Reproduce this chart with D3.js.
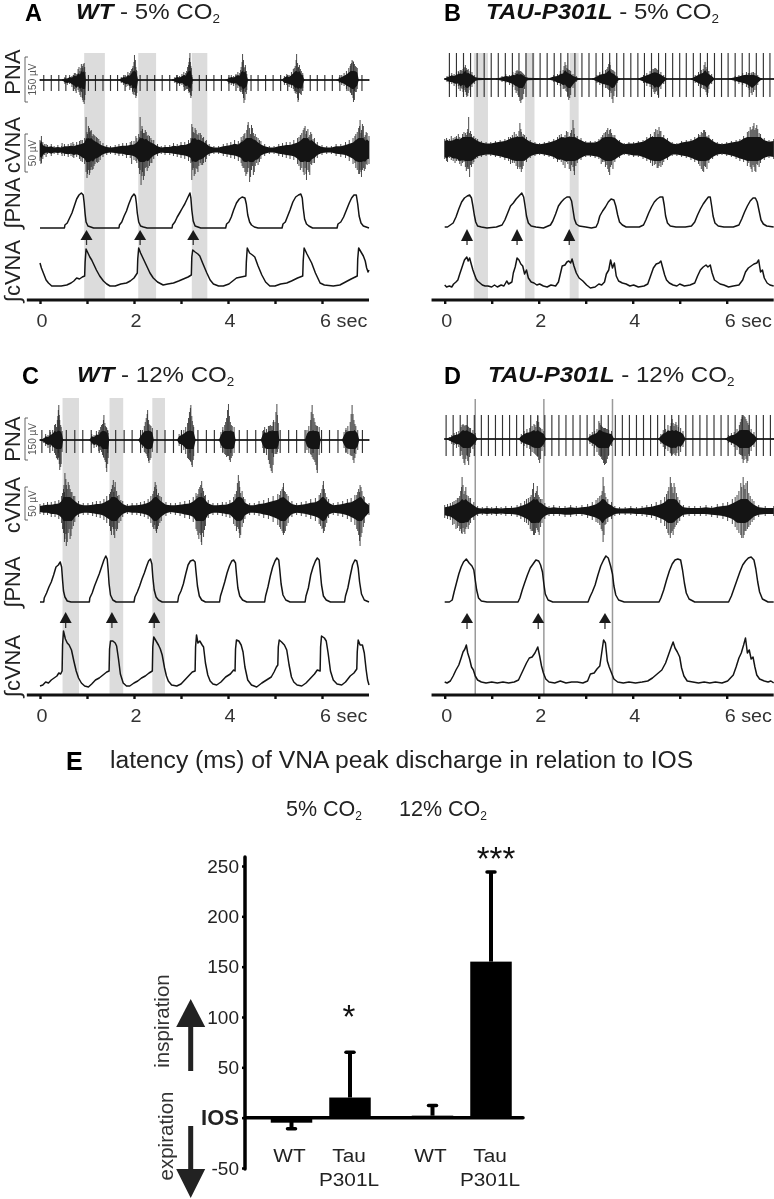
<!DOCTYPE html>
<html><head><meta charset="utf-8">
<script src="https://cdn.jsdelivr.net/npm/d3@7/dist/d3.min.js"></script>
<style>html,body{margin:0;background:#fff}svg{display:block;filter:blur(.35px)}text{font-family:"Liberation Sans",Arial,sans-serif}</style>
</head><body><div id="c"></div>
<script>
// ---- heartbeat artefact times (s)
const aBeats=[.08,.24,.40,.55,.71,.87,1.03,1.18,1.34,1.50,1.65,1.81,1.97,2.13,2.28,2.44,2.60,2.76,2.91,3.07,3.23,3.39,3.54,3.70,3.86,4.02,4.17,4.33,4.49,4.64,4.80,4.96,5.12,5.27,5.43,5.59,5.75,5.90,6.06,6.22,6.38,6.53,6.69,6.85];
const bBeats=[.10,.25,.40,.55,.69,.84,.99,1.14,1.29,1.44,1.58,1.73,1.88,2.03,2.18,2.33,2.47,2.62,2.77,2.92,3.07,3.22,3.36,3.51,3.66,3.81,3.96,4.11,4.25,4.40,4.55,4.70,4.85,5.00,5.14,5.29,5.44,5.59,5.74,5.89,6.03,6.18,6.33,6.48,6.63,6.78,6.92];
const cBeats=[.04,.21,.39,.56,.74,.91,1.09,1.26,1.44,1.61,1.79,1.96,2.14,2.31,2.49,2.66,2.84,3.01,3.19,3.36,3.54,3.71,3.89,4.06,4.24,4.41,4.59,4.76,4.94,5.11,5.29,5.46,5.64,5.81,5.99,6.16,6.34,6.51,6.69,6.86];
const dBeats=[.03,.18,.33,.48,.63,.78,.93,1.08,1.23,1.38,1.53,1.68,1.83,1.98,2.13,2.28,2.43,2.58,2.73,2.88,3.03,3.18,3.33,3.48,3.63,3.78,3.93,4.08,4.23,4.38,4.53,4.68,4.83,4.98,5.13,5.28,5.43,5.58,5.73,5.88,6.03,6.18,6.33,6.48,6.63,6.78,6.93];
// beat amplitude [up, down]
const aBeatAmp=[5,11], bBeatAmp=[26,18], cBeatAmp=[10,13], dBeatAmp=[24,17];

// ---- raw PNA envelope [t(s), up, down]
const aPnaEnv=[[0,1,1],[.48,1,1],[.53,3,4],[.58,2,5],[.63,5,4],[.68,4,7],[.73,7,9],[.77,6,13],[.81,11,10],[.85,9,15],[.88,16,12],[.91,12,20],[.94,17,24],[.96,8,15],[.975,1,1],
[1.68,1,1],[1.73,3,3],[1.78,5,5],[1.83,4,7],[1.87,8,6],[1.91,7,10],[1.95,11,8],[1.98,14,14],[2.01,25,12],[2.04,13,18],[2.06,9,13],[2.085,1,1],
[2.82,1,1],[2.87,3,3],[2.92,5,4],[2.97,4,6],[3.02,6,5],[3.06,8,7],[3.10,7,10],[3.14,13,9],[3.17,18,13],[3.19,27,12],[3.21,14,18],[3.235,3,4],[3.25,1,1],
[3.96,1,1],[4.02,3,4],[4.07,5,5],[4.12,4,6],[4.17,6,5],[4.21,8,8],[4.25,7,11],[4.28,13,10],[4.31,26,14],[4.34,12,23],[4.37,15,12],[4.40,6,10],[4.425,1,1],
[5.15,1,1],[5.2,4,5],[5.25,6,5],[5.3,5,7],[5.35,8,8],[5.39,11,9],[5.43,14,13],[5.46,26,12],[5.49,12,22],[5.52,15,13],[5.56,9,15],[5.59,7,8],[5.62,1,1],
[6.32,1,1],[6.37,3,3],[6.42,5,5],[6.47,7,6],[6.52,9,9],[6.57,12,11],[6.61,16,13],[6.64,20,15],[6.67,18,22],[6.71,14,12],[6.75,12,9],[6.78,1,1],[7,1,1]];
const bPnaEnv=[[0,1,1],[.05,3,3],[.1,4,5],[.15,6,5],[.2,5,7],[.25,7,8],[.29,8,7],[.33,9,12],[.37,8,10],[.41,11,9],[.44,14,13],[.47,9,18],[.5,10,14],[.54,8,11],[.58,7,8],[.63,4,5],[.67,2,2],
[1.1,1,1],[1.22,3,3],[1.3,5,4],[1.38,4,6],[1.45,7,8],[1.5,6,11],[1.54,9,12],[1.58,7,18],[1.62,8,24],[1.66,6,20],[1.7,4,10],[1.75,2,2],
[2.2,1,1],[2.32,4,3],[2.4,5,6],[2.46,8,7],[2.52,9,10],[2.56,17,9],[2.6,11,13],[2.64,9,21],[2.68,8,16],[2.73,5,9],[2.8,3,3],[2.87,1,1],
[3.15,1,1],[3.24,4,4],[3.3,7,6],[3.36,8,8],[3.42,9,9],[3.47,12,10],[3.51,17,11],[3.54,10,14],[3.58,9,24],[3.62,7,12],[3.67,3,4],[3.72,1,1],
[4.12,1,1],[4.23,4,4],[4.3,6,7],[4.37,8,8],[4.43,10,10],[4.47,11,15],[4.51,10,12],[4.55,9,19],[4.6,7,10],[4.66,4,5],[4.72,1,1],
[5.25,1,1],[5.33,4,4],[5.4,7,7],[5.46,9,9],[5.5,10,10],[5.54,17,11],[5.58,10,16],[5.62,8,10],[5.68,5,5],[5.74,1,1],
[6.05,1,1],[6.18,3,3],[6.26,4,5],[6.34,6,6],[6.42,7,8],[6.48,6,11],[6.54,7,16],[6.6,6,11],[6.66,4,6],[6.74,1,1],[7,1,1]];
const cPnaEnv=[[0,1,1],[.08,2,3],[.12,6,6],[.17,5,8],[.22,8,7],[.27,10,11],[.31,15,13],[.35,13,18],[.38,24,20],[.4,35,17],[.42,20,30],[.45,13,24],[.47,9,12],[.49,1,1],
[1.06,1,1],[1.1,6,5],[1.15,5,8],[1.2,9,7],[1.25,8,11],[1.29,13,10],[1.33,16,15],[1.36,25,18],[1.39,14,22],[1.42,12,32],[1.45,7,18],[1.47,1,1],
[2.1,1,1],[2.14,6,7],[2.18,10,8],[2.22,14,12],[2.26,22,14],[2.29,30,18],[2.32,16,23],[2.36,14,18],[2.39,12,12],[2.42,1,1],
[2.92,1,1],[2.96,6,6],[3.01,8,7],[3.06,10,10],[3.1,13,14],[3.14,17,18],[3.18,28,20],[3.21,35,22],[3.24,19,27],[3.27,13,16],[3.31,1,1],
[3.81,1,1],[3.85,8,8],[3.89,13,12],[3.93,15,14],[3.97,22,17],[4.01,36,16],[4.05,18,22],[4.09,14,16],[4.13,13,13],[4.16,1,1],
[4.7,1,1],[4.74,9,8],[4.78,13,13],[4.82,11,15],[4.86,14,20],[4.9,15,28],[4.94,14,33],[4.97,20,17],[5.0,18,14],[5.04,36,14],[5.07,17,9],[5.09,1,1],
[5.64,1,1],[5.68,10,10],[5.72,14,13],[5.76,20,14],[5.79,35,17],[5.83,22,20],[5.87,15,25],[5.9,14,33],[5.94,13,15],[5.97,1,1],
[6.43,1,1],[6.47,8,8],[6.51,12,12],[6.55,14,14],[6.6,18,15],[6.64,35,16],[6.68,20,23],[6.72,14,14],[6.76,10,10],[6.79,1,1],[7,1,1]];
const dPnaEnv=[[0,1,1],[.1,2,2],[.15,4,5],[.2,6,6],[.25,7,9],[.3,8,8],[.35,12,12],[.39,15,20],[.43,13,26],[.47,14,16],[.51,12,26],[.55,11,14],[.6,9,10],[.65,6,6],[.69,1,1],
[1.58,1,1],[1.63,5,5],[1.69,8,7],[1.75,10,9],[1.81,11,10],[1.86,13,13],[1.9,15,14],[1.94,12,16],[1.98,23,18],[2.02,12,24],[2.07,10,12],[2.11,8,8],[2.15,1,1],
[3.04,1,1],[3.09,5,5],[3.14,7,7],[3.19,8,9],[3.24,10,13],[3.28,18,16],[3.32,14,18],[3.36,12,21],[3.4,11,26],[3.44,10,24],[3.49,9,16],[3.55,8,7],[3.6,1,1],
[4.55,1,1],[4.6,5,5],[4.65,9,8],[4.7,10,10],[4.75,14,12],[4.8,13,14],[4.84,20,16],[4.88,13,14],[4.92,17,17],[4.97,12,11],[5.02,11,13],[5.07,8,8],[5.12,1,1],
[5.98,1,1],[6.04,4,4],[6.1,6,6],[6.16,7,8],[6.22,10,11],[6.27,14,15],[6.31,20,16],[6.35,24,24],[6.39,22,17],[6.43,18,24],[6.47,14,15],[6.52,10,12],[6.58,7,8],[6.65,1,1],[7,1,1]];

// ---- raw cVNA envelope [t(s), up, down]
const aVnaEnv=[[0,10,11],[.03,14,13],[.06,8,9],[.1,6,5],[.16,5,4],[.24,6,6],[.3,4,4],[.38,5,5],[.46,4,4],[.52,6,6],[.6,6,7],[.66,7,6],[.72,6,8],[.78,8,7],[.84,9,9],[.9,10,12],[.95,12,14],[.98,33,22],[1.0,18,28],[1.03,24,20],[1.06,18,23],[1.09,20,17],[1.13,16,19],[1.17,14,14],[1.22,12,13],[1.28,9,10],[1.34,7,7],[1.42,5,5],[1.5,4,4],[1.6,5,5],
[1.68,6,6],[1.76,7,6],[1.84,7,8],[1.92,8,8],[2,9,10],[2.06,12,13],[2.1,16,18],[2.13,33,20],[2.15,19,35],[2.18,21,22],[2.22,17,26],[2.26,18,17],[2.3,15,18],[2.36,12,13],[2.42,10,9],[2.5,6,6],[2.58,4,4],[2.66,5,5],[2.76,5,5],[2.84,7,6],[2.92,6,7],[3.0,8,8],[3.08,8,9],[3.16,10,11],[3.21,12,13],[3.23,26,30],[3.26,18,18],[3.3,22,24],[3.34,16,19],[3.38,17,16],[3.43,15,15],[3.48,13,13],[3.54,10,9],[3.6,6,6],[3.7,4,4],[3.8,4,4],
[3.9,6,6],[3.98,7,7],[4.06,8,8],[4.14,10,9],[4.22,9,11],[4.28,13,13],[4.32,14,18],[4.36,17,22],[4.4,20,24],[4.43,28,18],[4.46,22,32],[4.5,25,20],[4.54,17,25],[4.58,16,16],[4.64,12,15],[4.7,9,9],[4.78,6,6],[4.88,4,4],[4.98,4,4],[5.08,6,6],[5.16,7,7],[5.24,8,8],[5.32,8,9],[5.4,10,10],[5.48,12,14],[5.54,15,20],[5.6,20,22],[5.64,24,18],[5.67,19,30],[5.7,21,20],[5.74,15,25],[5.78,16,15],[5.84,12,13],[5.9,8,8],[6,5,5],[6.1,4,4],[6.2,4,4],[6.3,6,6],[6.4,6,7],[6.5,8,8],[6.58,10,11],[6.66,12,14],[6.72,16,18],[6.78,22,24],[6.81,30,20],[6.84,20,27],[6.88,24,18],[6.92,15,19],[6.96,17,15],[7,14,14]];
const bVnaEnv=[[0,10,10],[.04,11,12],[.1,10,9],[.18,11,12],[.25,13,12],[.32,12,15],[.38,15,14],[.44,16,18],[.48,17,20],[.51,32,20],[.53,16,28],[.57,15,18],[.62,13,13],[.7,10,9],[.78,8,8],[.88,7,7],[.98,7,7],[1.08,8,8],[1.18,9,9],[1.28,10,11],[1.36,12,12],[1.44,14,14],[1.52,15,17],[1.58,18,18],[1.6,26,20],[1.63,17,23],[1.67,15,17],[1.74,12,13],[1.82,9,9],[1.92,7,7],[2.02,6,6],[2.12,7,7],[2.22,8,8],[2.32,10,10],[2.4,12,13],[2.48,15,13],[2.56,14,19],[2.62,17,15],[2.68,16,22],[2.73,29,18],[2.76,15,26],[2.82,13,14],[2.9,11,11],[3.0,8,8],[3.1,8,8],[3.2,8,9],[3.28,10,10],[3.36,14,13],[3.42,17,18],[3.47,21,20],[3.51,19,26],[3.55,16,16],[3.62,14,13],[3.72,9,9],[3.82,6,6],[3.92,7,7],[4.02,7,8],[4.12,8,8],[4.22,9,10],[4.3,12,12],[4.38,15,14],[4.46,17,16],[4.52,19,19],[4.56,22,17],[4.6,18,18],[4.66,14,13],[4.74,11,11],[4.84,7,7],[4.94,6,7],[5.04,8,8],[5.14,9,9],[5.24,10,11],[5.32,12,13],[5.4,15,15],[5.46,17,20],[5.51,19,23],[5.55,17,18],[5.62,14,14],[5.7,10,10],[5.8,7,7],[5.9,6,6],[6.0,7,7],[6.1,8,8],[6.2,9,10],[6.28,10,12],[6.36,13,13],[6.44,17,17],[6.5,22,18],[6.54,20,23],[6.58,26,18],[6.62,21,23],[6.66,20,16],[6.72,15,14],[6.8,11,11],[6.9,9,9],[7,10,10]];
const cVnaEnv=[[0,5,5],[.08,6,6],[.16,7,6],[.24,7,8],[.32,8,8],[.4,9,10],[.46,13,14],[.5,20,24],[.53,36,30],[.56,24,37],[.6,27,24],[.64,20,30],[.68,17,20],[.74,13,13],[.82,8,8],[.92,6,6],[1.02,6,6],[1.12,7,7],[1.2,8,8],[1.28,8,9],[1.36,10,11],[1.42,13,14],[1.48,15,17],[1.52,20,26],[1.56,29,20],[1.59,22,29],[1.63,18,22],[1.68,14,14],[1.76,8,8],[1.86,5,5],[1.96,6,6],[2.06,6,6],[2.14,7,7],[2.22,8,8],[2.3,10,10],[2.36,13,14],[2.42,18,20],[2.45,27,20],[2.48,20,24],[2.52,16,17],[2.58,12,12],[2.68,7,7],[2.78,6,5],[2.88,6,6],[2.98,7,7],[3.08,8,9],[3.18,9,10],[3.26,12,13],[3.32,16,20],[3.38,20,30],[3.42,24,26],[3.44,28,36],[3.48,18,28],[3.52,14,17],[3.58,9,9],[3.68,6,6],[3.78,6,6],[3.88,7,7],[3.96,7,8],[4.04,9,9],[4.12,12,15],[4.18,18,22],[4.22,34,20],[4.25,22,29],[4.3,18,18],[4.36,10,10],[4.46,6,6],[4.56,6,6],[4.66,8,7],[4.76,9,9],[4.86,11,10],[4.96,13,13],[5.06,15,16],[5.12,18,20],[5.18,26,26],[5.22,17,22],[5.28,13,14],[5.36,8,8],[5.46,6,6],[5.56,7,7],[5.66,8,8],[5.76,10,10],[5.86,11,12],[5.94,14,15],[6.0,20,20],[6.03,28,24],[6.07,16,18],[6.14,10,9],[6.24,6,6],[6.34,7,7],[6.44,8,8],[6.54,10,10],[6.62,11,13],[6.7,14,16],[6.76,17,22],[6.81,24,37],[6.85,18,24],[6.9,12,14],[7,6,6]];
const dVnaEnv=[[0,6,7],[.06,7,8],[.12,8,9],[.2,10,13],[.27,13,17],[.32,15,20],[.37,34,23],[.41,17,21],[.45,24,18],[.5,15,18],[.55,13,12],[.62,9,9],[.7,5,5],[.8,4,4],[.9,5,5],[1.0,4,4],[1.1,5,5],[1.2,4,4],[1.3,5,5],[1.42,5,5],[1.54,6,6],[1.62,8,8],[1.7,10,11],[1.78,13,14],[1.84,16,20],[1.89,28,24],[1.93,18,22],[1.97,25,19],[2.01,14,24],[2.07,12,12],[2.13,8,8],[2.22,5,5],[2.32,6,5],[2.44,5,5],[2.56,5,6],[2.68,6,6],[2.8,5,5],[2.92,6,5],[3.04,7,7],[3.14,9,9],[3.22,11,11],[3.3,15,14],[3.35,20,20],[3.37,34,31],[3.41,18,14],[3.47,12,11],[3.55,9,8],[3.62,5,5],[3.72,4,4],[3.84,4,4],[3.96,5,4],[4.08,4,5],[4.2,5,5],[4.3,6,6],[4.4,7,7],[4.5,9,9],[4.6,11,12],[4.68,14,15],[4.75,20,22],[4.8,34,27],[4.84,24,20],[4.88,28,18],[4.93,18,14],[5.0,11,10],[5.08,6,6],[5.2,5,5],[5.32,5,5],[5.44,5,5],[5.56,6,5],[5.68,5,6],[5.8,7,7],[5.92,8,8],[6.02,9,10],[6.12,12,13],[6.22,16,19],[6.3,28,24],[6.35,34,27],[6.39,22,20],[6.44,30,18],[6.5,15,14],[6.58,10,9],[6.68,6,6],[6.82,5,5],[7,5,5]];

// ---- extra single deflections outside the dense core [t, up, down]
const aVnaHair=[[.02,9,14],[.13,6,7],[.47,7,6],[.7,8,7],[.87,10,11],[1.01,16,24],[1.05,22,25],[1.08,19,20],[1.11,14,20],[1.15,15,16],[1.2,13,12],[1.25,11,12],[1.95,9,14],[2.04,14,11],[2.12,13,24],[2.17,24,26],[2.2,17,30],[2.24,20,18],[2.28,14,21],[2.33,14,16],[2.38,10,13],[3.25,23,20],[3.28,17,26],[3.32,20,18],[3.36,15,22],[3.41,17,13],[3.46,12,15],[3.52,9,12],[4.3,10,16],[4.34,16,18],[4.38,12,26],[4.42,25,22],[4.48,16,27],[4.52,22,16],[4.56,14,22],[4.61,13,13],[4.67,10,12],[5.51,13,16],[5.57,17,18],[5.62,22,25],[5.66,16,24],[5.72,13,22],[5.76,18,14],[5.81,11,13],[6.7,14,13],[6.75,18,20],[6.8,24,24],[6.83,17,22],[6.86,26,20],[6.9,13,21],[6.94,18,14]];
const bVnaHair=[[.06,9,13],[.14,13,11],[.22,12,14],[.29,15,12],[.35,11,17],[.41,17,13],[.46,14,22],[.49,20,18],[.55,18,16],[.6,12,15],[.66,11,10],[1.4,12,15],[1.48,17,14],[1.55,13,20],[1.62,20,18],[1.65,13,20],[1.7,14,12],[2.44,14,11],[2.52,12,16],[2.59,18,13],[2.65,13,20],[2.7,19,16],[2.75,21,22],[2.79,12,17],[3.33,12,15],[3.39,16,13],[3.45,19,16],[3.49,15,23],[3.53,20,18],[3.58,14,20],[4.42,13,17],[4.49,20,15],[4.54,15,19],[4.58,18,14],[4.63,12,16],[5.43,14,17],[5.49,16,22],[5.53,19,17],[5.58,13,20],[6.47,18,14],[6.52,19,20],[6.56,23,16],[6.6,19,22],[6.64,24,15],[6.69,16,18]];
const cVnaHair=[[.48,16,20],[.51,24,20],[.52,17,33],[.55,30,25],[.58,20,33],[.62,24,20],[.66,17,27],[.71,13,17],[1.5,17,22],[1.54,24,18],[1.57,17,26],[1.6,27,20],[1.65,13,20],[1.72,9,12],[2.4,15,18],[2.44,22,16],[2.47,24,22],[2.5,14,20],[2.55,13,14],[3.34,13,22],[3.36,15,26],[3.4,22,24],[3.43,16,33],[3.46,21,24],[3.5,13,21],[4.15,15,17],[4.2,26,18],[4.24,28,24],[4.27,16,26],[4.33,12,14],[5.1,14,18],[5.15,20,22],[5.17,22,24],[5.2,18,24],[5.25,15,17],[5.97,16,17],[6.02,24,19],[6.05,20,22],[6.1,12,14],[6.74,14,20],[6.78,20,26],[6.8,17,32],[6.83,22,28],[6.88,13,18]];
const dVnaHair=[[.17,9,14],[.24,11,18],[.3,13,15],[.34,20,18],[.36,24,22],[.39,26,17],[.43,20,23],[.47,16,16],[.52,13,14],[1.74,12,12],[1.82,14,18],[1.87,22,20],[1.91,14,24],[1.95,20,17],[1.99,16,21],[2.04,12,16],[3.26,13,12],[3.33,16,18],[3.39,25,24],[3.43,14,13],[4.72,17,18],[4.77,24,24],[4.82,28,22],[4.86,18,24],[4.9,24,16],[4.96,14,12],[6.18,14,16],[6.26,20,22],[6.32,24,27],[6.37,26,24],[6.41,28,20],[6.47,18,16],[6.54,12,11]];
const aPnaHair=[[.75,7,11],[.83,13,12],[.87,12,17],[.9,14,18],[.92,16,22],[.95,13,20],[1.93,9,8],[1.97,12,12],[2.0,18,15],[2.03,20,15],[2.05,10,16],[3.12,9,9],[3.16,15,11],[3.18,22,12],[3.2,18,15],[3.22,12,16],[4.27,10,12],[4.3,18,12],[4.33,20,18],[4.36,13,20],[4.39,9,14],[5.41,12,11],[5.45,20,14],[5.48,17,18],[5.5,13,20],[5.54,11,14],[6.6,14,12],[6.63,17,15],[6.66,19,18],[6.69,16,20],[6.73,13,12]];
const bPnaHair=[[.3,7,10],[.35,9,9],[.39,10,13],[.43,12,11],[.46,11,16],[.49,9,17],[1.52,8,14],[1.56,8,16],[1.6,8,22],[1.64,7,21],[1.68,5,15],[2.54,13,10],[2.58,14,12],[2.62,10,17],[2.66,9,19],[3.45,10,9],[3.49,15,11],[3.52,14,12],[3.56,9,20],[3.6,8,17],[4.45,10,13],[4.49,11,13],[4.53,9,16],[5.52,14,10],[5.56,12,13],[5.6,8,14],[6.46,6,9],[6.52,6,14],[6.57,7,13]];
const cPnaHair=[[.33,16,15],[.37,20,19],[.39,30,18],[.41,25,24],[.44,15,27],[1.31,15,12],[1.35,20,17],[1.38,17,20],[1.41,13,28],[1.44,9,24],[2.24,18,13],[2.28,26,16],[2.31,20,21],[2.34,15,20],[3.16,22,19],[3.2,32,21],[3.23,24,25],[3.26,15,20],[3.95,18,15],[3.99,30,16],[4.03,24,20],[4.07,15,18],[4.88,14,24],[4.92,14,31],[4.96,18,25],[5.02,28,14],[5.05,25,12],[5.77,28,15],[5.81,26,19],[5.85,18,22],[5.89,14,30],[6.62,26,16],[6.66,26,20],[6.7,16,18]];
const dPnaHair=[[.37,14,16],[.41,14,24],[.45,14,20],[.49,13,22],[.53,11,18],[1.92,14,15],[1.96,18,17],[2.0,17,21],[2.04,11,20],[3.3,16,17],[3.34,13,20],[3.38,11,24],[3.42,11,25],[3.46,10,20],[4.82,16,15],[4.86,16,15],[4.9,15,16],[4.94,14,14],[6.29,17,16],[6.33,22,20],[6.37,23,21],[6.41,20,20],[6.45,16,22]];

// ---- rectified / integrated traces [t(s), amplitude]
const aIntPna=[[0,0],[.52,0],[.53,3],[.58,5],[.63,10],[.68,15],[.73,22],[.78,29],[.83,33],[.88,35],[.92,33],[.94,25],[.96,14],[.98,6],[1.02,2],[1.08,1],[1.14,0],[1.68,0],[1.69,3],[1.74,6],[1.79,12],[1.84,17],[1.89,24],[1.95,31],[2.0,34],[2.03,32],[2.05,25],[2.07,15],[2.10,6],[2.14,2],[2.2,1],[2.28,0],[2.81,0],[2.82,3],[2.87,6],[2.92,11],[2.97,15],[3.03,20],[3.08,24],[3.14,30],[3.19,35],[3.21,30],[3.23,18],[3.26,7],[3.30,2],[3.36,1],[3.42,0],[3.95,0],[3.97,4],[4.02,6],[4.07,11],[4.12,18],[4.18,25],[4.24,29],[4.3,31],[4.36,30],[4.39,24],[4.42,13],[4.46,6],[4.5,3],[4.56,1],[4.64,0],[5.15,0],[5.17,4],[5.22,6],[5.27,12],[5.32,18],[5.38,26],[5.44,31],[5.5,33],[5.55,34],[5.58,30],[5.6,20],[5.63,9],[5.67,4],[5.72,2],[5.8,0],[6.32,0],[6.34,4],[6.4,6],[6.46,11],[6.52,18],[6.58,25],[6.63,30],[6.68,33],[6.73,33],[6.76,24],[6.79,12],[6.83,5],[6.88,2],[6.94,1],[7,0]];
const aIntVna=[[0,24],[.03,19],[.08,13],[.13,7],[.18,4],[.25,1],[.35,1],[.45,1],[.57,2],[.66,4],[.72,6],[.78,9],[.84,8],[.9,10],[.95,11],[.96,25],[.98,38],[1.02,34],[1.06,30],[1.1,27],[1.15,22],[1.2,17],[1.27,11],[1.35,6],[1.42,3],[1.49,1],[1.6,1],[1.72,3],[1.84,4],[1.92,6],[2.0,9],[2.07,14],[2.08,28],[2.1,39],[2.14,34],[2.2,28],[2.27,21],[2.34,14],[2.41,9],[2.5,5],[2.62,2],[2.72,3],[2.84,4],[2.95,6],[3.05,8],[3.15,10],[3.22,12],[3.23,30],[3.25,37],[3.3,35],[3.36,33],[3.4,31],[3.46,24],[3.55,14],[3.62,7],[3.69,3],[3.8,1],[3.9,1],[4.02,3],[4.1,6],[4.18,9],[4.28,10],[4.38,11],[4.39,25],[4.41,39],[4.46,34],[4.52,32],[4.57,30],[4.64,21],[4.72,12],[4.8,5],[4.89,1],[5.0,1],[5.12,3],[5.25,4],[5.35,6],[5.48,9],[5.59,11],[5.6,26],[5.62,39],[5.68,33],[5.78,24],[5.86,14],[5.96,4],[6.05,2],[6.24,1],[6.38,2],[6.5,5],[6.62,8],[6.75,11],[6.76,28],[6.78,39],[6.83,35],[6.88,31],[6.92,26],[6.95,19],[6.98,15],[7,17]];
const bIntPna=[[0,1],[.06,1],[.12,3],[.18,5],[.24,11],[.3,19],[.36,26],[.42,30],[.48,32],[.53,33],[.57,30],[.6,22],[.63,13],[.66,6],[.7,2],[.78,1],[.9,0],[1.1,1],[1.22,3],[1.28,8],[1.34,15],[1.4,22],[1.46,25],[1.52,29],[1.58,32],[1.64,35],[1.68,31],[1.71,22],[1.74,12],[1.78,5],[1.84,2],[1.94,1],[2.1,0],[2.25,3],[2.3,7],[2.36,14],[2.42,22],[2.48,26],[2.54,29],[2.6,31],[2.66,31],[2.7,27],[2.73,18],[2.76,9],[2.8,4],[2.86,2],[3.0,1],[3.12,0],[3.22,1],[3.26,5],[3.3,12],[3.36,17],[3.42,21],[3.48,26],[3.54,29],[3.6,28],[3.64,22],[3.68,13],[3.72,6],[3.78,3],[3.86,1],[4.0,1],[4.14,1],[4.23,3],[4.28,8],[4.34,15],[4.4,21],[4.46,26],[4.52,29],[4.58,31],[4.64,31],[4.67,23],[4.7,12],[4.74,5],[4.8,2],[4.92,1],[5.12,1],[5.25,2],[5.32,6],[5.38,13],[5.44,19],[5.5,24],[5.56,28],[5.61,31],[5.65,31],[5.68,22],[5.71,12],[5.75,5],[5.82,2],[5.94,1],[6.14,1],[6.26,3],[6.32,9],[6.38,16],[6.44,22],[6.5,27],[6.56,30],[6.61,30],[6.65,26],[6.69,17],[6.73,8],[6.78,4],[6.85,2],[7,1]];
const bIntVna=[[0,3],[.04,1],[.1,2],[.15,1],[.19,4],[.24,6],[.28,8],[.32,14],[.37,21],[.42,28],[.47,31],[.5,27],[.53,30],[.57,23],[.6,18],[.63,14],[.67,9],[.7,7],[.75,5],[.8,3],[.86,2],[.92,2],[1.0,1],[1.06,3],[1.12,1],[1.2,3],[1.26,2],[1.32,7],[1.36,4],[1.43,6],[1.46,15],[1.5,21],[1.54,30],[1.58,28],[1.62,24],[1.66,22],[1.7,14],[1.74,18],[1.78,10],[1.84,6],[1.9,5],[1.96,3],[2.02,4],[2.1,2],[2.18,1],[2.26,3],[2.36,2],[2.42,6],[2.46,14],[2.5,22],[2.56,23],[2.6,26],[2.64,27],[2.68,25],[2.71,29],[2.75,22],[2.8,15],[2.86,10],[2.94,7],[3.02,3],[3.1,0],[3.2,1],[3.28,4],[3.34,3],[3.4,6],[3.44,14],[3.49,18],[3.53,28],[3.57,20],[3.61,25],[3.65,12],[3.7,7],[3.78,5],[3.86,4],[3.94,2],[4.02,3],[4.12,1],[4.24,2],[4.32,4],[4.38,12],[4.44,20],[4.5,24],[4.56,25],[4.6,27],[4.64,20],[4.68,13],[4.72,8],[4.78,5],[4.86,3],[4.94,2],[5.0,4],[5.1,2],[5.22,3],[5.32,5],[5.38,12],[5.44,18],[5.5,21],[5.56,23],[5.6,21],[5.65,23],[5.69,15],[5.74,8],[5.8,6],[5.86,4],[5.94,3],[6.04,1],[6.14,2],[6.26,3],[6.34,8],[6.4,16],[6.46,20],[6.52,22],[6.58,24],[6.64,25],[6.68,28],[6.72,16],[6.76,18],[6.8,10],[6.86,5],[6.92,3],[7,2]];
const cIntPna=[[0,0],[.08,0],[.09,4],[.14,9],[.19,15],[.24,20],[.29,27],[.34,35],[.39,37],[.43,40],[.46,35],[.48,22],[.5,11],[.53,5],[.58,1],[.66,0],[1.05,0],[1.06,4],[1.11,9],[1.16,16],[1.21,22],[1.26,28],[1.31,35],[1.36,42],[1.4,46],[1.43,43],[1.45,32],[1.47,18],[1.5,7],[1.55,2],[1.62,0],[2.0,0],[2.02,5],[2.07,10],[2.12,16],[2.17,23],[2.22,29],[2.27,36],[2.31,41],[2.35,43],[2.38,38],[2.4,25],[2.43,12],[2.47,5],[2.52,2],[2.6,0],[2.93,0],[2.95,6],[3.0,11],[3.05,18],[3.1,28],[3.15,37],[3.2,41],[3.26,42],[3.3,40],[3.32,30],[3.35,16],[3.39,6],[3.44,2],[3.52,0],[3.82,0],[3.84,6],[3.88,12],[3.93,20],[3.98,29],[4.03,36],[4.08,41],[4.12,42],[4.16,39],[4.18,28],[4.21,14],[4.25,6],[4.31,2],[4.4,0],[4.78,0],[4.8,6],[4.85,15],[4.9,26],[4.95,35],[5,41],[5.04,44],[5.08,42],[5.1,33],[5.13,18],[5.17,7],[5.23,2],[5.32,0],[5.64,0],[5.66,6],[5.71,14],[5.76,27],[5.81,35],[5.86,41],[5.9,44],[5.94,42],[5.96,32],[5.99,17],[6.03,6],[6.09,2],[6.18,0],[6.48,0],[6.5,6],[6.55,14],[6.6,26],[6.65,37],[6.7,42],[6.74,41],[6.77,34],[6.8,20],[6.84,8],[6.9,2],[7,0]];
const cIntVna=[[0,1],[.06,2],[.12,5],[.18,4],[.24,7],[.3,9],[.36,11],[.4,14],[.44,13],[.47,16],[.48,42],[.5,56],[.54,48],[.58,44],[.62,42],[.67,37],[.72,26],[.77,16],[.82,9],[.88,4],[.95,1],[1.03,0],[1.1,3],[1.18,7],[1.26,9],[1.34,12],[1.42,15],[1.47,16],[1.48,38],[1.5,46],[1.55,46],[1.6,44],[1.63,41],[1.67,28],[1.71,13],[1.77,4],[1.84,1],[1.91,1],[2.0,4],[2.08,6],[2.16,9],[2.24,11],[2.32,14],[2.39,16],[2.4,40],[2.42,50],[2.47,46],[2.52,42],[2.56,38],[2.6,32],[2.65,19],[2.69,11],[2.73,6],[2.8,2],[2.91,1],[3,3],[3.08,7],[3.16,11],[3.24,15],[3.3,16],[3.31,40],[3.33,52],[3.36,44],[3.4,46],[3.45,42],[3.48,40],[3.52,24],[3.57,12],[3.62,6],[3.68,3],[3.76,2],[3.85,5],[3.95,10],[4.05,13],[4.12,17],[4.15,16],[4.16,38],[4.18,47],[4.23,46],[4.28,42],[4.32,35],[4.36,20],[4.42,7],[4.5,2],[4.61,0],[4.72,4],[4.82,7],[4.92,10],[4.98,15],[5.03,20],[5.06,22],[5.07,40],[5.09,47],[5.14,45],[5.2,42],[5.25,37],[5.3,22],[5.35,10],[5.4,5],[5.47,2],[5.57,1],[5.66,4],[5.76,9],[5.84,13],[5.9,17],[5.96,16],[5.97,40],[5.99,51],[6.05,49],[6.09,46],[6.13,34],[6.18,16],[6.24,7],[6.32,3],[6.42,2],[6.5,5],[6.6,11],[6.68,14],[6.74,18],[6.75,35],[6.77,47],[6.81,42],[6.86,42],[6.9,34],[6.94,17],[6.97,7],[7,2]];
const dIntPna=[[0,0],[.1,0],[.16,2],[.2,10],[.25,19],[.3,28],[.35,35],[.4,40],[.46,43],[.52,39],[.58,36],[.62,32],[.65,22],[.68,12],[.72,4],[.78,1],[.9,0],[1.56,0],[1.6,4],[1.65,12],[1.7,19],[1.76,27],[1.82,34],[1.88,38],[1.94,42],[2.0,41],[2.04,37],[2.08,30],[2.11,18],[2.14,8],[2.2,2],[2.3,0],[3.05,0],[3.09,5],[3.14,10],[3.2,17],[3.26,27],[3.32,36],[3.38,42],[3.43,46],[3.48,44],[3.53,36],[3.57,28],[3.6,16],[3.64,7],[3.7,2],[3.82,0],[4.56,0],[4.6,4],[4.66,12],[4.72,22],[4.78,31],[4.84,38],[4.9,42],[4.96,43],[5.02,42],[5.06,32],[5.1,19],[5.14,9],[5.2,3],[5.32,0],[6.04,0],[6.1,6],[6.16,14],[6.22,22],[6.28,30],[6.34,37],[6.4,41],[6.46,44],[6.52,45],[6.58,42],[6.62,33],[6.66,20],[6.7,10],[6.76,3],[6.88,0],[7,0]];
const dIntVna=[[0,1],[.05,0],[.12,2],[.18,7],[.24,13],[.3,18],[.35,25],[.39,31],[.43,34],[.46,38],[.49,30],[.53,24],[.57,16],[.61,13],[.65,7],[.7,3],[.78,1],[.88,0],[1.0,1],[1.12,0],[1.24,1],[1.36,0],[1.48,1],[1.57,3],[1.62,8],[1.68,14],[1.74,20],[1.8,25],[1.86,26],[1.92,30],[1.98,36],[2.02,27],[2.06,17],[2.1,10],[2.15,4],[2.22,1],[2.34,0],[2.46,2],[2.58,0],[2.7,1],[2.82,1],[2.94,0],[3.04,2],[3.1,9],[3.18,10],[3.24,14],[3.3,17],[3.34,30],[3.38,43],[3.42,40],[3.46,22],[3.5,16],[3.55,10],[3.6,4],[3.68,1],[3.8,0],[3.92,1],[4.06,0],[4.2,1],[4.32,2],[4.42,5],[4.52,9],[4.62,13],[4.7,20],[4.76,28],[4.82,36],[4.86,41],[4.9,35],[4.95,31],[5,26],[5.04,15],[5.09,7],[5.16,2],[5.28,1],[5.4,0],[5.52,1],[5.64,0],[5.76,1],[5.9,0],[6.02,2],[6.08,5],[6.14,8],[6.2,16],[6.26,25],[6.31,30],[6.36,38],[6.4,45],[6.44,30],[6.48,33],[6.52,24],[6.56,26],[6.6,16],[6.64,8],[6.7,4],[6.8,2],[6.88,1],[6.94,2],[7,0]];

// ---- event markers
const aBands=[[.94,1.38],[2.09,2.47],[3.23,3.56]], bBands=[[.62,.92],[1.71,1.91],[2.66,2.85]], cBands=[[.48,.83],[1.48,1.77],[2.39,2.66]];
const dLines=[.65,2.11,3.57];
const aArrows=[.99,2.13,3.26], bArrows=[.475,1.54,2.65], cArrows=[.546,1.53,2.43], dArrows=[.475,1.99,3.41];

// ---- bar chart
const barGroups=['5% CO2','12% CO2'];
const barCats=['WT','Tau'];
const barMeans=[[-4,20],[2,155]];
const barErr=[[-11,65],[12,244]];
const yTicks=[250,200,150,100,50,0,-50];
const timeTicks=[0,1,2,3,4,5,6];

const W=774,H=1199,SX=1.12;
const svg=d3.select('#c').append('svg').attr('width',W).attr('height',H).attr('viewBox',`0 0 ${W} ${H}`);
const ink='#141414', grey='#dcdcdc';

function wide(x,y,size,anchor){
  return svg.append('text').attr('transform',`translate(${x},${y}) scale(${SX},1)`).attr('font-size',size).attr('text-anchor',anchor||'start').attr('fill','#222');
}
function title(x,y,lab,lx,name,pct){
  svg.append('text').attr('x',x).attr('y',y+1).attr('font-size',23.5).attr('font-weight','bold').attr('fill','#000').text(lab);
  const t=wide(lx,y-1,21.5);
  t.append('tspan').attr('font-weight','bold').attr('font-style','italic').attr('fill','#111').text(name);
  t.append('tspan').text(' - '+pct+' CO');
  t.append('tspan').attr('font-size',12).attr('dy',4).text('2');
}
function rowLabel(x,y,s){
  svg.append('text').attr('transform',`translate(${x},${y}) rotate(-90)`).attr('font-size',22).attr('fill','#222').attr('text-anchor','middle').text(s);
}
function scaleBar(x,y0,y1,s){
  svg.append('path').attr('d',`M${x+3},${y0}H${x}V${y1}H${x+3}`).attr('fill','none').attr('stroke','#555').attr('stroke-width',.9);
  svg.append('text').attr('transform',`translate(${x+10.5},${(y0+y1)/2}) rotate(-90)`).attr('font-size',10).attr('fill','#555').attr('text-anchor','middle').text(s);
}
function raw(g,x,yS,env,hair,coreF,cap){
  const c=v=>Math.min(v*coreF,cap);
  const all=env.concat(hair);
  g.selectAll(null).data(all).join('line').attr('x1',d=>x(d[0])).attr('x2',d=>x(d[0])).attr('y1',d=>yS(d[1])).attr('y2',d=>yS(-d[2])).attr('stroke','#2a2a2a').attr('stroke-width',.85);
  g.append('path').attr('d',d3.area().x(d=>x(d[0])).y0(d=>yS(-c(d[2]))).y1(d=>yS(c(d[1])))(env)).attr('fill',ink);
}
function panel(p){
  const x=d3.scaleLinear().domain([0,7]).range([p.x0,p.x0+329]);
  const g=svg.append('g');
  (p.bands||[]).forEach(b=>g.append('rect').attr('x',x(b[0])).attr('width',x(b[1])-x(b[0])).attr('y',p.top).attr('height',p.axisY-p.top).attr('fill',grey));
  (p.lines||[]).forEach(t=>g.append('line').attr('x1',x(t)).attr('x2',x(t)).attr('y1',p.top).attr('y2',p.axisY).attr('stroke','#9a9a9a').attr('stroke-width',1.5));
  const amp=b=>d3.scaleLinear().domain([0,50]).range([b,b-50]);
  const yP=amp(p.pnaBase);
  g.selectAll(null).data(p.beats).join('line').attr('x1',d=>x(d)).attr('x2',d=>x(d)).attr('y1',yP(p.beatAmp[0])).attr('y2',yP(-p.beatAmp[1])).attr('stroke','#333').attr('stroke-width',1.15);
  raw(g,x,yP,p.pnaEnv,p.pnaHair,.62,9);
  g.append('line').attr('x1',x(0)).attr('x2',x(7)).attr('y1',yP(0)).attr('y2',yP(0)).attr('stroke',ink).attr('stroke-width',1.4);
  const yV=amp(p.vnaBase);
  raw(g,x,yV,p.vnaEnv,p.vnaHair,p.vnaCore,12);
  const yIP=amp(p.ipBase), yIV=amp(p.ivBase);
  g.append('path').attr('d',d3.line().x(d=>x(d[0])).y(d=>yIP(d[1]))(p.ip)).attr('fill','none').attr('stroke',ink).attr('stroke-width',1.5).attr('stroke-linejoin','round');
  g.append('path').attr('d',d3.line().x(d=>x(d[0])).y(d=>yIV(d[1]))(p.iv)).attr('fill','none').attr('stroke',ink).attr('stroke-width',1.5).attr('stroke-linejoin','round');
  p.arrows.forEach(t=>{
    const cx=x(t);
    g.append('path').attr('d',`M${cx-6},${p.arrow[1]}L${cx},${p.arrow[0]}L${cx+6},${p.arrow[1]}Z`).attr('fill','#1a1a1a');
    g.append('line').attr('x1',cx).attr('x2',cx).attr('y1',p.arrow[1]).attr('y2',p.arrow[2]).attr('stroke','#333').attr('stroke-width',1.3);
  });
  const ax=d3.axisBottom(x).tickValues(timeTicks).tickSize(4).tickFormat('');
  const ag=g.append('g').attr('transform',`translate(0,${p.axisY})`).call(ax);
  ag.select('.domain').remove();
  ag.selectAll('line').attr('stroke','#111').attr('stroke-width',2.4);
  g.append('line').attr('x1',x(-.28)).attr('x2',x(7)).attr('y1',p.axisY).attr('y2',p.axisY).attr('stroke','#111').attr('stroke-width',3);
  [[0,'0','middle',2],[2,'2','middle',2],[4,'4','middle',2],[6,'6 sec','start',-2]].forEach(d=>
    g.append('text').attr('transform',`translate(${x(d[0])+d[3]},${p.axisY+27}) scale(1.07,1)`).attr('text-anchor',d[2]).attr('font-size',18.5).attr('fill','#333').text(d[1]));
}
const panels=[
 {x0:40,top:53,axisY:300,pnaBase:80,vnaBase:150,ipBase:228,ivBase:287,vnaCore:.62,bands:aBands,beats:aBeats,beatAmp:aBeatAmp,pnaEnv:aPnaEnv,pnaHair:aPnaHair,vnaEnv:aVnaEnv,vnaHair:aVnaHair,ip:aIntPna,iv:aIntVna,arrows:aArrows,arrow:[230,240,245]},
 {x0:444.7,top:53,axisY:300,pnaBase:79,vnaBase:149,ipBase:228,ivBase:288,vnaCore:.8,bands:bBands,beats:bBeats,beatAmp:bBeatAmp,pnaEnv:bPnaEnv,pnaHair:bPnaHair,vnaEnv:bVnaEnv,vnaHair:bVnaHair,ip:bIntPna,iv:bIntVna,arrows:bArrows,arrow:[229,241,245]},
 {x0:40,top:398,axisY:695,pnaBase:440,vnaBase:509,ipBase:602,ivBase:687,vnaCore:.62,bands:cBands,beats:cBeats,beatAmp:cBeatAmp,pnaEnv:cPnaEnv,pnaHair:cPnaHair,vnaEnv:cVnaEnv,vnaHair:cVnaHair,ip:cIntPna,iv:cIntVna,arrows:cArrows,arrow:[612,623,628]},
 {x0:444.7,top:399,axisY:695,pnaBase:439,vnaBase:511,ipBase:602,ivBase:683,vnaCore:.62,lines:dLines,beats:dBeats,beatAmp:dBeatAmp,pnaEnv:dPnaEnv,pnaHair:dPnaHair,vnaEnv:dVnaEnv,vnaHair:dVnaHair,ip:dIntPna,iv:dIntVna,arrows:dArrows,arrow:[613,623,629]}
];
panels.forEach(panel);
title(25,20,'A',76,'WT','5%');
title(444,20,'B',486,'TAU-P301L','5%');
title(22,383,'C',77,'WT','12%');
title(444,383,'D',488,'TAU-P301L','12%');
[[20,72,'PNA'],[20,145,'cVNA'],[20,203,'∫PNA'],[20,271,'∫cVNA'],[20,439,'PNA'],[20,505,'cVNA'],[20,582,'∫PNA'],[20,666,'∫cVNA']].forEach(d=>rowLabel(...d));
scaleBar(25,57,102,'150 µV');scaleBar(25,134,172,'50 µV');scaleBar(25,418,460,'150 µV');scaleBar(25,487,520,'50 µV');

// ---- panel E
svg.append('text').attr('x',66).attr('y',770).attr('font-size',25).attr('font-weight','bold').attr('fill','#000').text('E');
svg.append('text').attr('x',110).attr('y',768).attr('font-size',24.7).attr('fill','#222').text('latency (ms) of VNA peak discharge in relation to IOS');
[[286,'5% CO'],[399,'12% CO']].forEach(d=>{
  const t=svg.append('text').attr('x',d[0]).attr('y',816).attr('font-size',21.5).attr('fill','#222');
  t.append('tspan').text(d[1]);
  t.append('tspan').attr('font-size',12).attr('dy',4).text('2');
});
const y=d3.scaleLinear().domain([-50,250]).range([1168,866]);
const gx=d3.scaleBand().domain(barGroups).range([250,532]);
const bx=d3.scaleBand().domain(barCats).range([12.25,129.25]);
const barW=41.5;
barGroups.forEach((gr,i)=>barCats.forEach((c,j)=>{
  const cx=gx(gr)+bx(c)+bx.bandwidth()/2;
  const v=barMeans[i][j],e=barErr[i][j];
  svg.append('line').attr('x1',cx).attr('x2',cx).attr('y1',y(v)).attr('y2',y(e)).attr('stroke','#000').attr('stroke-width',4);
  svg.append('line').attr('x1',cx-4).attr('x2',cx+4).attr('y1',y(e)).attr('y2',y(e)).attr('stroke','#000').attr('stroke-width',3.5).attr('stroke-linecap','round');
  svg.append('rect').attr('x',cx-barW/2).attr('width',barW).attr('y',y(Math.max(v,0))).attr('height',Math.abs(y(v)-y(0))+1).attr('fill','#000');
  wide(cx-(j?1:2),1162,18.6,'middle').text(c);
  if(j) wide(cx-1,1186,18.6,'middle').text('P301L');
}));
svg.append('line').attr('x1',245).attr('x2',523).attr('y1',y(0)).attr('y2',y(0)).attr('stroke','#000').attr('stroke-width',3.5).attr('stroke-linecap','round');
const yAx=d3.axisLeft(y).tickValues(yTicks).tickSize(3).tickPadding(3).tickFormat(d=>d===0?'IOS':d);
const ya=svg.append('g').attr('transform','translate(245,0)').call(yAx);
ya.select('.domain').remove();
ya.selectAll('line').attr('stroke','#000').attr('stroke-width',2.5);
ya.selectAll('text').attr('font-size',d=>d===0?22:19).attr('fill','#222').attr('font-family','"Liberation Sans",Arial,sans-serif').attr('font-weight',d=>d===0?'bold':'normal');
svg.append('line').attr('x1',245).attr('x2',245).attr('y1',857).attr('y2',1169).attr('stroke','#000').attr('stroke-width',3.5).attr('stroke-linecap','round');
svg.append('text').attr('x',349).attr('y',1028).attr('text-anchor','middle').attr('font-size',33).attr('fill','#111').text('*');
svg.append('text').attr('x',496).attr('y',870).attr('text-anchor','middle').attr('font-size',33).attr('fill','#111').text('***');
svg.append('text').attr('transform','translate(169,1021) rotate(-90)').attr('text-anchor','middle').attr('font-size',20.5).attr('fill','#333').text('inspiration');
svg.append('text').attr('transform','translate(173,1136) rotate(-90)').attr('text-anchor','middle').attr('font-size',20.5).attr('fill','#333').text('expiration');
const ac='#222';
svg.append('path').attr('d','M176.2,1027L190.7,999L205.2,1027Z').attr('fill',ac);
svg.append('rect').attr('x',188.2).attr('y',1027).attr('width',5).attr('height',44).attr('fill',ac);
svg.append('path').attr('d','M176.2,1169L190.7,1198L205.2,1169Z').attr('fill',ac);
svg.append('rect').attr('x',188.2).attr('y',1126).attr('width',5).attr('height',43).attr('fill',ac);
</script></body></html>
